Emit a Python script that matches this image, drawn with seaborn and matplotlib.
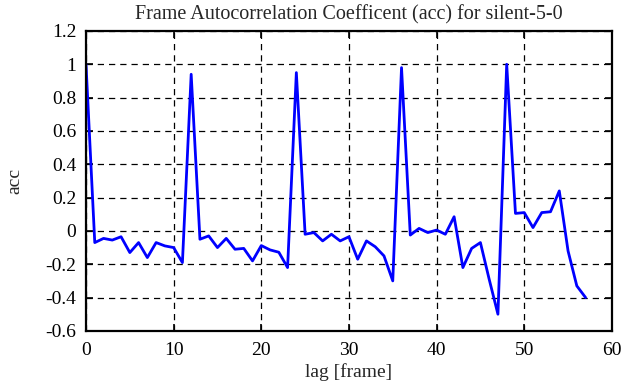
import numpy as np
import pandas as pd
import matplotlib
matplotlib.use("Agg")
import matplotlib.pyplot as plt
import seaborn as sns

lag = list(range(58))
acc = [1.0, -0.07, -0.045, -0.055, -0.035, -0.13, -0.07, -0.16, -0.07, -0.09,
       -0.10, -0.19, 0.94, -0.05, -0.03, -0.10, -0.045, -0.11, -0.105, -0.18,
       -0.088, -0.114, -0.128, -0.22, 0.95, -0.02, -0.01, -0.06, -0.02, -0.06,
       -0.035, -0.17, -0.06, -0.095, -0.15, -0.30, 0.98, -0.025, 0.015, -0.01,
       0.005, -0.02, 0.085, -0.22, -0.105, -0.07, -0.29, -0.50, 1.0, 0.105,
       0.11, 0.02, 0.11, 0.115, 0.24, -0.12, -0.33, -0.40]

xticks = [0, 10, 20, 30, 40, 50, 60]
yticks = [-0.6, -0.4, -0.2, 0, 0.2, 0.4, 0.6, 0.8, 1, 1.2]
ytick_labels = ["-0.6", "-0.4", "-0.2", "0", "0.2", "0.4", "0.6", "0.8", "1", "1.2"]

df = pd.DataFrame({"lag": lag, "acc": acc})

sns.set_style("ticks")
plt.rcParams['font.family'] = ['Liberation Serif', 'DejaVu Serif']

fig = plt.figure(figsize=(6.25, 3.87), dpi=100)
ax = fig.add_axes([0.1376, 0.145, 0.8414, 0.775])

sns.lineplot(data=df, x="lag", y="acc", ax=ax, color="#0000ff", linewidth=2)

ax.set_xlim(0, 60)
ax.set_ylim(-0.6, 1.2)
ax.set_xticks(xticks)
ax.set_xticklabels([str(t) for t in xticks])
ax.set_yticks(yticks)
ax.set_yticklabels(ytick_labels)
ax.grid(True, color="black", linestyle=(0, (5, 4)), linewidth=0.9)
for s in ax.spines.values():
    s.set_visible(True)
    s.set_color("black")
    s.set_linewidth(1.6)
ax.tick_params(direction="in", top=True, right=True, length=5, width=1.2,
               labelsize=14, colors="black")
ax.tick_params(axis="x", pad=8)
ax.tick_params(axis="y", pad=7)
ax.set_xlabel("lag [frame]", fontsize=14, labelpad=3)
ax.set_ylabel("acc", fontsize=14, labelpad=16)
ax.set_title("Frame Autocorrelation Coefficent (acc) for silent-5-0", fontsize=14.5, pad=8)

fig.savefig("out.png", dpi=100)
